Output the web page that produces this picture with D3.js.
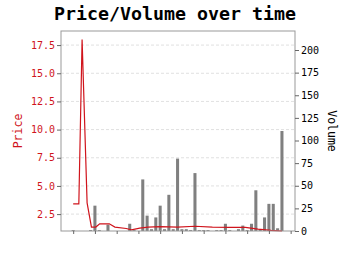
<!DOCTYPE html>
<html>
<head>
<meta charset="utf-8">
<script src="https://cdn.jsdelivr.net/npm/d3@7"></script>
<style>
    body { margin: 0; background: #fff; }
    text { font-family: "DejaVu Sans Mono", monospace; }
</style>
</head>
<body>
<div id="chart"></div>
<script>
// Volume per trading day (day index from the first trade)
const volumeDays = d3.range(0, 49);
const volumes = [1, 0, 0, 0, 1, 28, 1, 0, 7, 0, 0, 0, 0, 8, 1, 0, 57, 17, 2, 15,
    28, 2, 40, 2, 80, 2, 2, 1, 64, 1, 1, 1, 0, 1, 1, 8, 1, 0, 2, 6,
    1, 8, 45, 2, 15, 30, 30, 3, 110.5];

// Price samples (day, price)
const priceDays = [0, 1.3, 2.05, 3.2, 4.2, 5.2, 6.1, 8.3, 9.6, 12.2, 13.4, 15.3, 17.2,
    20, 24, 28, 32, 36, 39.6, 42.5, 45.5, 48];
const prices = [3.4, 3.4, 18.0, 3.5, 1.35, 1.35, 1.64, 1.64, 1.35, 1.22, 1.11, 1.26, 1.35,
    1.38, 1.35, 1.42, 1.35, 1.33, 1.33, 1.17, 1.05, 1.0];

const priceTicks = [2.5, 5.0, 7.5, 10.0, 12.5, 15.0, 17.5];
const volumeTicks = [0, 25, 50, 75, 100, 125, 150, 175, 200];
const dayTicks = [0, 5, 10, 15, 20, 25, 30, 35, 40, 45, 50];

const width = 350, height = 255;
const plotLeft = 61, plotRight = 295, plotTop = 31, plotBottom = 231;
const red = "#d0141c";

const svg = d3.select("#chart").append("svg")
    .attr("width", width)
    .attr("height", height);

const x = d3.scaleLinear().domain([-2.8, 51.0]).range([plotLeft, plotRight]);
const yPrice = d3.scaleLinear().domain([1.0, 18.75]).range([plotBottom, plotTop]);
const yVol = d3.scaleLinear().domain([0, 221]).range([plotBottom, plotTop]);

// gridlines on price ticks
svg.append("g")
    .selectAll("line")
    .data(priceTicks)
    .enter()
    .append("line")
    .attr("x1", plotLeft)
    .attr("x2", plotRight)
    .attr("y1", d => yPrice(d))
    .attr("y2", d => yPrice(d))
    .attr("stroke", "#d8d8d8")
    .attr("stroke-dasharray", "3,2")
    .attr("stroke-width", 0.8);

// volume bars
const barHalf = 0.35;
svg.append("g")
    .selectAll("rect")
    .data(volumeDays.map((d, i) => ({ day: d, vol: volumes[i] })).filter(d => d.vol > 0))
    .enter()
    .append("rect")
    .attr("x", d => x(d.day - barHalf))
    .attr("width", d => x(d.day + barHalf) - x(d.day - barHalf))
    .attr("y", d => yVol(d.vol))
    .attr("height", d => yVol(0) - yVol(d.vol))
    .attr("fill", "#808080");

// price line
const line = d3.line()
    .x(d => x(d[0]))
    .y(d => yPrice(d[1]));

svg.append("path")
    .datum(priceDays.map((d, i) => [d, prices[i]]))
    .attr("d", line)
    .attr("fill", "none")
    .attr("stroke", red)
    .attr("stroke-width", 1.2);

// frame
svg.append("rect")
    .attr("x", plotLeft)
    .attr("y", plotTop)
    .attr("width", plotRight - plotLeft)
    .attr("height", plotBottom - plotTop)
    .attr("fill", "none")
    .attr("stroke", "#999")
    .attr("stroke-width", 1);

// left axis (price)
const leftAxis = svg.append("g")
    .attr("transform", `translate(${plotLeft},0)`)
    .call(d3.axisLeft(yPrice).tickValues(priceTicks).tickFormat(d3.format(".1f")).tickSize(4).tickPadding(2));
leftAxis.select(".domain").remove();
leftAxis.selectAll("line").attr("stroke", "#666");
leftAxis.selectAll("text")
    .attr("fill", red)
    .style("font-size", "10px")
    .style("font-family", "DejaVu Sans Mono");

// right axis (volume)
const rightAxis = svg.append("g")
    .attr("transform", `translate(${plotRight},0)`)
    .call(d3.axisRight(yVol).tickValues(volumeTicks).tickSize(4).tickPadding(2));
rightAxis.select(".domain").remove();
rightAxis.selectAll("line").attr("stroke", "#666");
rightAxis.selectAll("text")
    .attr("fill", "#000")
    .style("font-size", "10px")
    .style("font-family", "DejaVu Sans Mono");

// bottom axis, ticks only
const bottomAxis = svg.append("g")
    .attr("transform", `translate(0,${plotBottom})`)
    .call(d3.axisBottom(x).tickValues(dayTicks).tickSize(3).tickFormat(""));
bottomAxis.select(".domain").remove();
bottomAxis.selectAll("line").attr("stroke", "#666");

// title
svg.append("text")
    .attr("x", 175)
    .attr("y", 20)
    .attr("text-anchor", "middle")
    .style("font-size", "18.3px")
    .style("font-weight", "bold")
    .style("font-family", "DejaVu Sans Mono")
    .text("Price/Volume over time");

// axis labels
svg.append("text")
    .attr("transform", "translate(22,131) rotate(-90)")
    .attr("text-anchor", "middle")
    .attr("fill", red)
    .style("font-size", "11.5px")
    .text("Price");

svg.append("text")
    .attr("transform", "translate(328,131) rotate(90)")
    .attr("text-anchor", "middle")
    .attr("fill", "#000")
    .style("font-size", "11.5px")
    .text("Volume");
</script>
</body>
</html>
